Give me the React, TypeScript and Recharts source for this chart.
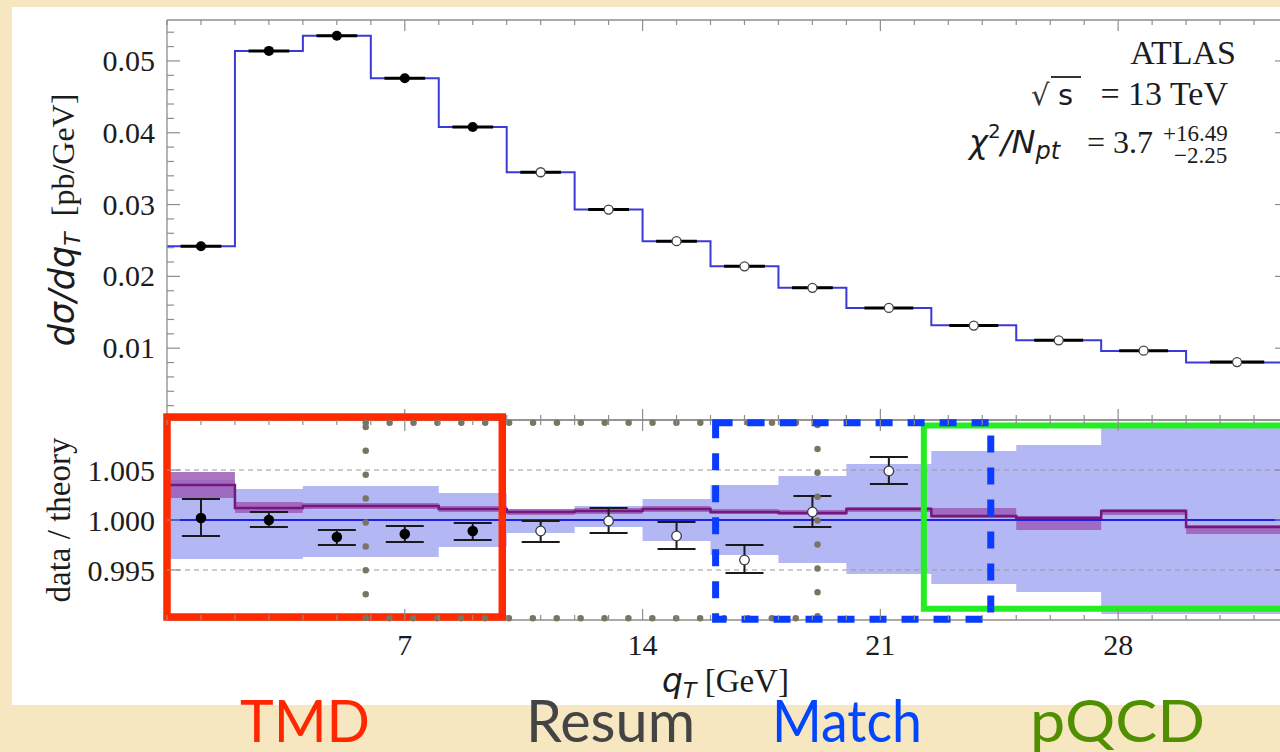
import React from 'react';
import {
  ComposedChart,
  Line,
  Area,
  Scatter,
  XAxis,
  YAxis,
  ErrorBar,
  ReferenceLine,
  ReferenceArea,
} from 'recharts';

// ---------------- data ----------------
const binEdges = [0, 2, 4, 6, 8, 10, 12, 14, 16, 18, 20, 22.5, 25, 27.5, 30, 33];
const binCenters = [1, 3, 5, 7, 9, 11, 13, 15, 17, 19, 21.25, 23.75, 26.25, 28.75, 31.5];
const dataXsec = [0.0242, 0.0514, 0.0535, 0.0476, 0.0408, 0.0345, 0.0293, 0.0249, 0.0214, 0.0184, 0.0156, 0.01315, 0.0111, 0.00965, 0.00807];
const theoryXsec = [0.0242, 0.0514, 0.0535, 0.0476, 0.0408, 0.0345, 0.0293, 0.0249, 0.0214, 0.0184, 0.0156, 0.0132, 0.0111, 0.0096, 0.0080];
const xBarHalf = [0.6, 0.6, 0.6, 0.6, 0.6, 0.6, 0.6, 0.6, 0.6, 0.6, 0.72, 0.72, 0.72, 0.72, 0.8];
const hollowPoint = [false, false, false, false, false, true, true, true, true, true, true, true, true, true, true];

const ratioVal = [1.0002, 1.0, 0.9983, 0.9986, 0.9989, 0.9989, 0.9999, 0.9984, 0.996, 1.0008, 1.0049];
const ratioHi = [1.0021, 1.0008, 0.999, 0.9994, 0.9997, 0.9999, 1.0012, 0.9998, 0.9975, 1.0024, 1.0063];
const ratioLo = [0.9984, 0.9993, 0.9975, 0.9978, 0.998, 0.9978, 0.9987, 0.9971, 0.9947, 0.9993, 1.0036];

const bandHi = [1.004, 1.0031, 1.0034, 1.0034, 1.0027, 1.001, 1.0014, 1.0021, 1.0035, 1.0044, 1.0056, 1.0069, 1.0075, 1.0095, 1.0095];
const bandLo = [0.9961, 0.9961, 0.9963, 0.9963, 0.9973, 0.9987, 0.9993, 0.9979, 0.9965, 0.9957, 0.9946, 0.9936, 0.9928, 0.9906, 0.9906];
const thHi = [1.0048, 1.0018, 1.0017, 1.0017, 1.0014, 1.0011, 1.0012, 1.0014, 1.0011, 1.001, 1.0013, 1.0012, 1.0004, 1.0011, 0.9995];
const thLo = [1.0022, 1.0007, 1.0011, 1.0011, 1.0008, 1.0005, 1.0006, 1.0008, 1.0006, 1.0005, 1.0008, 1.0002, 0.999, 1.0005, 0.9986];
const thMid = [1.0035, 1.0012, 1.0014, 1.0014, 1.0011, 1.0008, 1.0009, 1.0011, 1.0008, 1.0007, 1.0011, 1.0004, 1.0002, 1.0009, 0.9993];

// tick labels
const xMajorTicks = [7, 14, 21, 28];
const xAllTicks = Array.from({ length: 34 }, (_, i) => i);
const yTopLabels = [0.01, 0.02, 0.03, 0.04, 0.05];
const yTopAllTicks = Array.from({ length: 27 }, (_, i) => Number(((i + 1) * 0.002).toFixed(3)));
const yRatioLabels = [0.995, 1.0, 1.005];

// region boxes in the ratio panel (x in GeV, y in ratio units)
const regionNames = ['TMD', 'pQCD', 'Resum', 'Match'];
const regionX1 = [0, 22.28, 5.85, 16.15];
const regionX2 = [9.87, 34, 19.15, 24.25];
const regionY1 = [0.9903, 0.99112, 0.99017, 0.99007];
const regionY2 = [1.0103, 1.00945, 1.00973, 1.00973];

// ---------------- style ----------------
const SERIF = '"Liberation Serif", "Times New Roman", serif';
const SANS = '"DejaVu Sans", sans-serif';
const LABEL_SANS = 'Lato, "Open Sans", sans-serif';
const INK = '#1c1c1c';
const FRAME = '#8e8e8e';
const regionStroke = ['#ff2a00', '#22ee22', '#7a7463', '#0a3cff'];
const regionWidth = [7.5, 6, 6.5, 7];
const regionDash = [undefined, undefined, '0 23.9', '17 15'];
const regionCap = ['butt', 'butt', 'round', 'butt'];

// ---------------- derived tables ----------------
const last = binCenters.length - 1;
const stepTop = binEdges.map((x, i) => ({ x, th: theoryXsec[Math.min(i, last)] }));
const ptsTop = binCenters.map((x, i) => ({ x, y: dataXsec[i], xe: xBarHalf[i], hollow: hollowPoint[i] }));
const stepRatio = binEdges.map((x, i) => {
  const j = Math.min(i, last);
  return { x, band: [bandLo[j], bandHi[j]], th: [thLo[j], thHi[j]], mid: thMid[j] };
});
const ptsRatio = ratioVal.map((y, i) => ({
  x: binCenters[i],
  y,
  ye: [y - ratioLo[i], ratioHi[i] - y],
  hollow: hollowPoint[i],
}));

const near = (v: number, arr: number[]) => arr.some((m) => Math.abs(m - v) < 1e-9);

function yTick(side: 'left' | 'right', majors: number[], digits: number | null, labelDy: number) {
  return (props: any) => {
    const { x, y, payload } = props;
    const v = Number(payload.value);
    const major = near(v, majors);
    const len = major ? 13 : 7;
    const dir = side === 'left' ? 1 : -1;
    return (
      <g>
        <line x1={x} y1={y} x2={x + dir * len} y2={y} stroke={FRAME} strokeWidth={1.2} />
        {major && digits !== null && side === 'left' ? (
          <text x={x - 12} y={y + labelDy} textAnchor="end" fontFamily={SERIF} fontSize={30} fill={INK}>
            {v.toFixed(digits)}
          </text>
        ) : null}
      </g>
    );
  };
}

function xTick(side: 'top' | 'bottom', majors: number[], withLabels: boolean) {
  return (props: any) => {
    const { x, y, payload } = props;
    const v = Number(payload.value);
    const major = near(v, majors);
    const len = major ? 11 : 5;
    const dir = side === 'top' ? 1 : -1;
    return (
      <g>
        <line x1={x} y1={y} x2={x} y2={y + dir * len} stroke={FRAME} strokeWidth={1.2} />
        {major && withLabels ? (
          <text x={x} y={y + 35} textAnchor="middle" fontFamily={SERIF} fontSize={30} fill={INK}>
            {String(v)}
          </text>
        ) : null}
      </g>
    );
  };
}

const TopMarker = (p: any) =>
  p.payload && p.payload.hollow ? (
    <circle cx={p.cx} cy={p.cy} r={4.5} fill="#fff" stroke="#444" strokeWidth={1.3} />
  ) : (
    <circle cx={p.cx} cy={p.cy} r={5} fill="#000" />
  );

const RatioMarker = (p: any) =>
  p.payload && p.payload.hollow ? (
    <circle cx={p.cx} cy={p.cy} r={4.8} fill="#fff" stroke="#3a3a48" strokeWidth={1.3} />
  ) : (
    <circle cx={p.cx} cy={p.cy} r={5.3} fill="#000" />
  );

const axisLine = { stroke: FRAME, strokeWidth: 1.3 };

function TopChart() {
  return (
    <ComposedChart width={1300} height={440} data={stepTop} margin={{ top: 0, right: 0, bottom: 0, left: 0 }}>
      <XAxis xAxisId="b" type="number" dataKey="x" domain={[0, 33]} allowDataOverflow ticks={xAllTicks} interval={0}
        orientation="bottom" height={20} tickSize={0} tickMargin={0} tickLine={false} axisLine={axisLine}
        tick={xTick('bottom', xMajorTicks, false)} />
      <XAxis xAxisId="t" type="number" dataKey="x" domain={[0, 33]} allowDataOverflow ticks={xAllTicks} interval={0}
        orientation="top" height={20} tickSize={0} tickMargin={0} tickLine={false} axisLine={axisLine}
        tick={xTick('top', xMajorTicks, false)} />
      <YAxis yAxisId="l" type="number" domain={[0, 0.0557]} allowDataOverflow ticks={yTopAllTicks} interval={0}
        orientation="left" width={167} tickSize={0} tickMargin={0} tickLine={false} axisLine={axisLine}
        tick={yTick('left', yTopLabels, 2, 10)} />
      <YAxis yAxisId="r" type="number" domain={[0, 0.0557]} allowDataOverflow ticks={yTopAllTicks} interval={0}
        orientation="right" width={12} tickSize={0} tickMargin={0} tickLine={false} axisLine={axisLine}
        tick={yTick('right', yTopLabels, null, 0)} />
      <Line xAxisId="b" yAxisId="l" type="stepAfter" dataKey="th" stroke="#3a3ad8" strokeWidth={2}
        dot={false} activeDot={false} isAnimationActive={false} />
      <Scatter xAxisId="b" yAxisId="l" data={ptsTop} dataKey="y" shape={TopMarker} isAnimationActive={false}>
        <ErrorBar dataKey="xe" direction="x" width={0} stroke="#000" strokeWidth={3} />
      </Scatter>
    </ComposedChart>
  );
}

function RatioChart() {
  return (
    <ComposedChart width={1300} height={300} data={stepRatio} margin={{ top: 0, right: 0, bottom: 0, left: 0 }}>
      <XAxis xAxisId="b" type="number" dataKey="x" domain={[0, 33]} allowDataOverflow ticks={xAllTicks} interval={0}
        orientation="bottom" height={80} tickSize={0} tickMargin={0} tickLine={false} axisLine={axisLine}
        tick={xTick('bottom', xMajorTicks, true)} />
      <XAxis xAxisId="t" type="number" dataKey="x" domain={[0, 33]} allowDataOverflow ticks={xAllTicks} interval={0}
        orientation="top" height={20} tickSize={0} tickMargin={0} tickLine={false} axisLine={axisLine}
        tick={xTick('top', xMajorTicks, false)} />
      <YAxis yAxisId="l" type="number" domain={[0.99, 1.01]} allowDataOverflow ticks={yRatioLabels} interval={0}
        orientation="left" width={167} tickSize={0} tickMargin={0} tickLine={false} axisLine={axisLine}
        tick={yTick('left', yRatioLabels, 3, 11)} />
      <YAxis yAxisId="r" type="number" domain={[0.99, 1.01]} allowDataOverflow ticks={yRatioLabels} interval={0}
        orientation="right" width={12} tickSize={0} tickMargin={0} tickLine={false} axisLine={axisLine}
        tick={yTick('right', yRatioLabels, null, 0)} />
      <Area xAxisId="b" yAxisId="l" type="stepAfter" dataKey="band" fill="#b3b7f4" fillOpacity={1} stroke="none"
        dot={false} activeDot={false} isAnimationActive={false} zIndex={100} />
      <ReferenceLine xAxisId="b" yAxisId="l" y={1.005} stroke="#9a9a9a" strokeWidth={1.2} strokeDasharray="5 4" zIndex={110} />
      <ReferenceLine xAxisId="b" yAxisId="l" y={0.995} stroke="#9a9a9a" strokeWidth={1.2} strokeDasharray="5 4" zIndex={110} />
      <Area xAxisId="b" yAxisId="l" type="stepAfter" dataKey="th" fill="#9c5db6" fillOpacity={0.85} stroke="none"
        dot={false} activeDot={false} isAnimationActive={false} zIndex={120} />
      <ReferenceLine xAxisId="b" yAxisId="l" y={1} stroke="#1f1fe6" strokeWidth={2} zIndex={130} />
      <Line xAxisId="b" yAxisId="l" type="stepAfter" dataKey="mid" stroke="#76177e" strokeWidth={2.5}
        dot={false} activeDot={false} isAnimationActive={false} zIndex={140} />
      <Scatter xAxisId="b" yAxisId="l" data={ptsRatio} dataKey="y" shape={RatioMarker} isAnimationActive={false} zIndex={600}>
        <ErrorBar dataKey="ye" direction="y" width={19} stroke="#1a1a1a" strokeWidth={2} />
      </Scatter>
      {regionNames.map((n, i) => (
        <ReferenceArea
          key={n}
          xAxisId="b"
          yAxisId="l"
          x1={regionX1[i]}
          x2={regionX2[i]}
          y1={regionY1[i]}
          y2={regionY2[i]}
          ifOverflow="visible"
          fill="none"
          fillOpacity={0}
          stroke={regionStroke[i]}
          strokeWidth={regionWidth[i]}
          strokeDasharray={regionDash[i]}
          strokeLinecap={regionCap[i] as any}
          zIndex={800 + i}
        />
      ))}
    </ComposedChart>
  );
}

function Overlay() {
  return (
    <svg width={1280} height={752} style={{ position: 'absolute', left: 0, top: 0, pointerEvents: 'none' }}>
      {/* annotations top right */}
      <text x={1236} y={64} textAnchor="end" fontFamily={SERIF} fontSize={34} fill={INK}>ATLAS</text>
      <text x={1031} y={105} fontFamily={SANS} fontSize={29} fill="#333">√</text>
      <line x1={1051} y1={77} x2={1081} y2={77} stroke="#333" strokeWidth={2} />
      <text x={1058} y={105} fontFamily={SANS} fontSize={29} fill={INK}>s</text>
      <text x={1228} y={105} textAnchor="end" fontFamily={SERIF} fontSize={34} fill={INK}>= 13 TeV</text>
      <text x={969} y={153} fontFamily={SANS} fontStyle="italic" fontSize={32} fill={INK}>
        χ<tspan fontStyle="normal" fontSize={20} dy={-15}>2</tspan>
        <tspan dy={15}>/N</tspan>
        <tspan fontSize={24} dy={6}>pt</tspan>
      </text>
      <text x={1087} y={153} fontFamily={SERIF} fontSize={32} fill={INK}>= 3.7</text>
      <text x={1163} y={141} fontFamily={SERIF} fontSize={23} fill={INK}>+16.49</text>
      <text x={1174} y={163} fontFamily={SERIF} fontSize={23} fill={INK}>−2.25</text>

      {/* axis titles */}
      <text transform="translate(74,220) rotate(-90)" textAnchor="middle" fill={INK}>
        <tspan fontFamily={SANS} fontStyle="italic" fontSize={35}>dσ/dq</tspan>
        <tspan fontFamily={SANS} fontStyle="italic" fontSize={22} dy={6}>T</tspan>
        <tspan fontFamily={SERIF} fontSize={32} dy={-6}>{'\u00a0\u00a0[pb/GeV]'}</tspan>
      </text>
      <text transform="translate(70,520) rotate(-90)" textAnchor="middle" fontFamily={SERIF} fontSize={33} fill={INK}>
        data / theory
      </text>
      <text x={662} y={692} fill={INK}>
        <tspan fontFamily={SANS} fontStyle="italic" fontSize={33}>q</tspan>
        <tspan fontFamily={SANS} fontStyle="italic" fontSize={22} dy={6}>T</tspan>
        <tspan fontFamily={SERIF} fontSize={33} dy={-6}>{'\u00a0[GeV]'}</tspan>
      </text>

      {/* region labels */}
      <text x={240} y={742} fontFamily={LABEL_SANS} fontSize={58} fill="#ff2600" textLength={130} lengthAdjust="spacingAndGlyphs">TMD</text>
      <text x={526} y={742} fontFamily={LABEL_SANS} fontSize={58} fill="#444444" textLength={169} lengthAdjust="spacingAndGlyphs">Resum</text>
      <text x={772} y={742} fontFamily={LABEL_SANS} fontSize={58} fill="#0046ff" textLength={150} lengthAdjust="spacingAndGlyphs">Match</text>
      <text x={1030} y={742} fontFamily={LABEL_SANS} fontSize={58} fill="#4f8f00" textLength={175} lengthAdjust="spacingAndGlyphs">pQCD</text>
    </svg>
  );
}

export default function App() {
  return (
    <div style={{ position: 'fixed', left: 0, top: 0, width: 1280, height: 752, overflow: 'hidden', background: '#f6e7c1' }}>
      <div style={{ position: 'absolute', left: 12, top: 7, width: 1275, height: 698, background: '#ffffff' }} />
      <div style={{ position: 'absolute', left: 0, top: 0 }}>
        <TopChart />
      </div>
      <div style={{ position: 'absolute', left: 0, top: 400 }}>
        <RatioChart />
      </div>
      <Overlay />
    </div>
  );
}
